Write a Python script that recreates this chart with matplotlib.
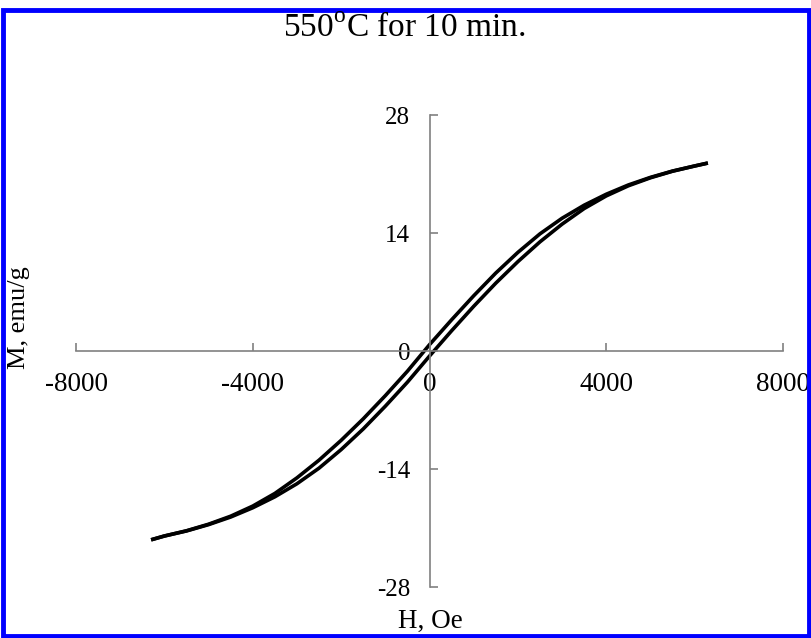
import matplotlib
matplotlib.use("Agg")
import matplotlib.pyplot as plt
from matplotlib.patches import Rectangle

# Descending branch (from +H max to -H max)
H_down = [6300, 6000, 5500, 5000, 4500, 4000, 3500, 3000, 2500, 2000, 1500, 1000, 500, 0,
          -500, -1000, -1500, -2000, -2500, -3000, -3500, -4000, -4500, -5000, -5500, -6000, -6300]
M_down = [22.3, 21.95, 21.35, 20.6, 19.7, 18.6, 17.3, 15.75, 13.9, 11.7, 9.25, 6.55, 3.7, 0.75,
          -2.4, -5.3, -8.05, -10.6, -12.95, -15.05, -16.9, -18.4, -19.6, -20.55, -21.33, -21.95, -22.4]
# Ascending branch (from -H max to +H max)
H_up = [-6300, -6000, -5500, -5000, -4500, -4000, -3500, -3000, -2500, -2000, -1500, -1000, -500, 0,
        500, 1000, 1500, 2000, 2500, 3000, 3500, 4000, 4500, 5000, 5500, 6000, 6300]
M_up = [-22.4, -21.95, -21.35, -20.6, -19.7, -18.6, -17.3, -15.75, -13.9, -11.7, -9.25, -6.55, -3.7, -0.6,
        2.4, 5.3, 8.05, 10.6, 12.95, 15.05, 16.9, 18.4, 19.6, 20.55, 21.33, 21.95, 22.3]

x_ticks = [-8000, -4000, 0, 4000, 8000]
y_ticks = [-28, -14, 0, 14, 28]

plt.rcParams['font.family'] = ['Liberation Serif', 'DejaVu Serif']

W, H = 811, 638
fig = plt.figure(figsize=(W / 100, H / 100), dpi=100)
ax = fig.add_axes([76 / W, (H - 587) / H, 707 / W, 472 / H])

for hx, my in ((H_down, M_down), (H_up, M_up)):
    ax.plot(hx, my, color='black', lw=2.6, solid_joinstyle='round', solid_capstyle='butt')

ax.set_xlim(-8000, 8000)
ax.set_ylim(-28, 28)
ax.set_xticks(x_ticks)
ax.set_yticks(y_ticks)
ax.set_xticklabels([str(v) for v in x_ticks])
ax.set_yticklabels([str(v) for v in y_ticks])

for s in ['top', 'right']:
    ax.spines[s].set_visible(False)
ax.spines['left'].set_position(('data', 0))
ax.spines['bottom'].set_position(('data', 0))
for s in ['left', 'bottom']:
    ax.spines[s].set_color('#808080')
    ax.spines[s].set_linewidth(1.2)

ax.tick_params(axis='x', direction='in', length=6, width=1.2, color='#808080',
               labelsize=19.5, pad=15)
ax.tick_params(axis='y', direction='in', length=6, width=1.2, color='#808080',
               labelsize=18, pad=14)

fig.text(404 / W, 1 - 28 / H, '550$^{\\mathregular{o}}$C for 10 min.', ha='center', va='center',
         fontsize=24)
fig.text(430 / W, 1 - 621 / H, 'H, Oe', ha='center', va='center', fontsize=19.5)
fig.text(19 / W, 1 - 318 / H, 'M, emu/g', ha='center', va='center', rotation=90, fontsize=19)

fig.patches.append(Rectangle((2.5 / W, 2.5 / H), (W - 5) / W, (H - 12.5) / H,
                             transform=fig.transFigure, fill=False,
                             edgecolor='#0000FF', linewidth=3.5))

fig.savefig('out.png', dpi=100)
